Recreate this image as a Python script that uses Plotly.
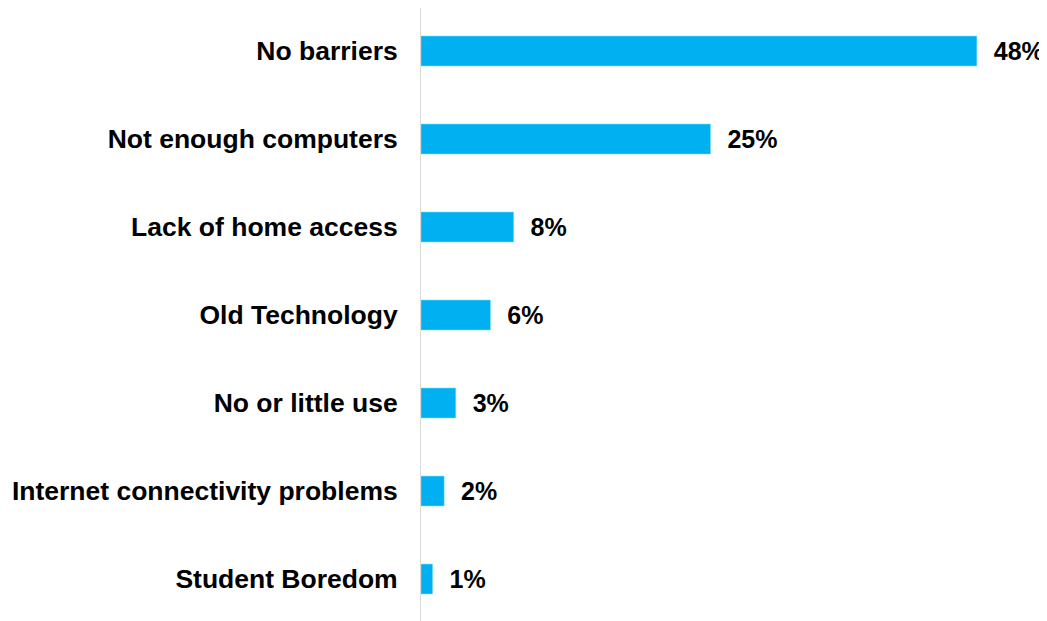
import plotly.graph_objects as go

categories = ["No barriers", "Not enough computers", "Lack of home access", "Old Technology",
              "No or little use", "Internet connectivity problems", "Student Boredom"]
values = [48, 25, 8, 6, 3, 2, 1]
labels = [f"{v}%" for v in values]

FONT = "Liberation Sans, Arial, sans-serif"

fig = go.Figure(go.Bar(
    y=categories, x=values, orientation="h",
    marker=dict(color="#00B0F0", line=dict(color="#7fd8f8", width=0.5)),
    width=0.34,
    text=["  " + t for t in labels], textposition="outside", constraintext="none",
    textfont=dict(family=FONT, size=25, color="#000000", weight="bold"),
    cliponaxis=False,
))

fig.update_layout(
    width=1039, height=613,
    margin=dict(l=413, r=0, t=0, b=0, autoexpand=False),
    plot_bgcolor="white", paper_bgcolor="white",
    showlegend=False,
    font=dict(family=FONT, size=25, color="#000000"),
    xaxis=dict(range=[0, 54.06], showgrid=False, zeroline=False, showticklabels=False, showline=False),
    yaxis=dict(categoryorder="array", categoryarray=categories, range=[6.477, -0.489],
               showgrid=False, zeroline=False, showline=True, linecolor="#d9d9d9", linewidth=1,
               ticks="", ticklabelstandoff=17, automargin=False,
               tickfont=dict(family=FONT, size=26.5, color="#000000", weight="bold")),
)

fig.write_html("out.html")
